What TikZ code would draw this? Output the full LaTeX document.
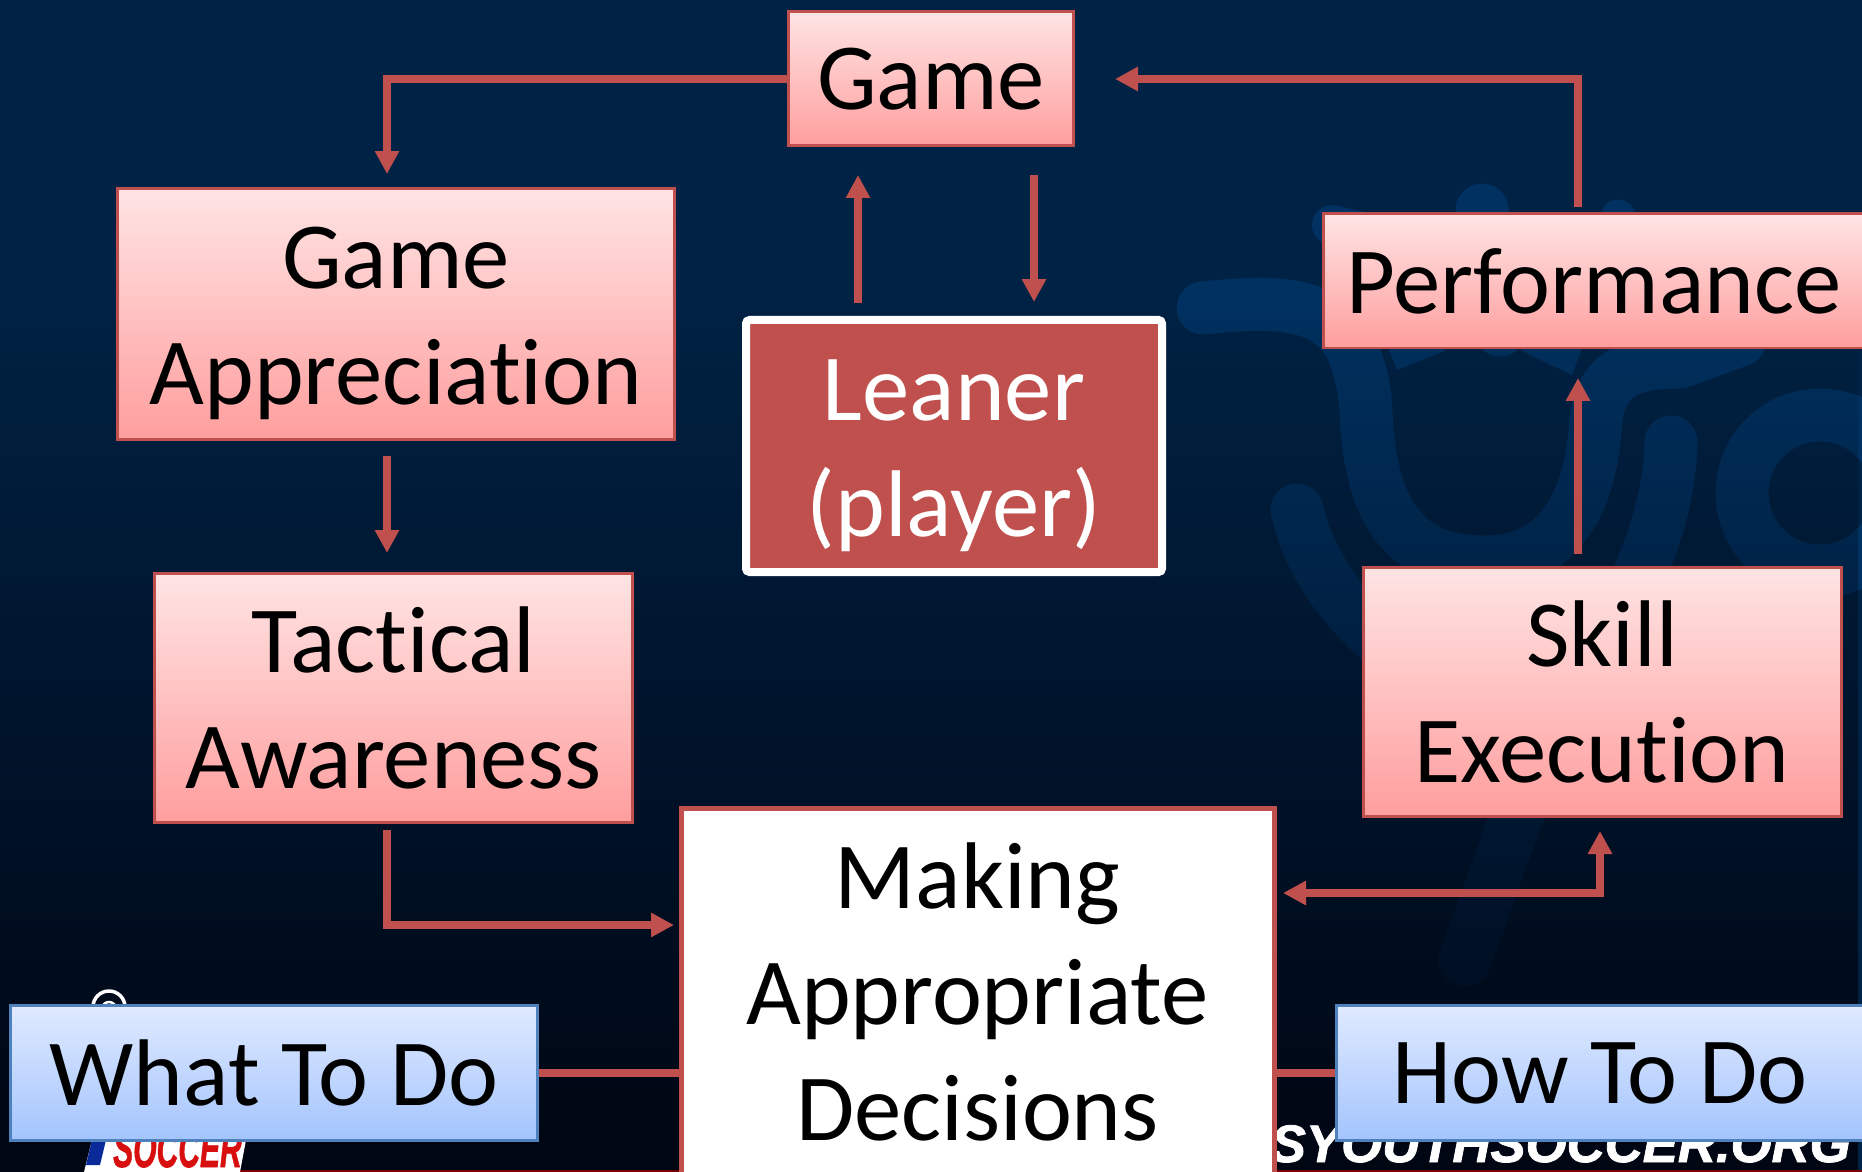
\documentclass[tikz,border=0pt]{standalone}
\usepackage{fontspec}
\setmainfont{Carlito}[Ligatures=NoCommon]
\newfontfamily\logofont{Liberation Sans}[FakeBold=1.5]
\usetikzlibrary{positioning, arrows.meta, fadings}

\definecolor{navy}{HTML}{002244}
\definecolor{nightblue}{HTML}{010612}
\definecolor{logoblue}{HTML}{003160}
\definecolor{linkred}{HTML}{C0504D}
\definecolor{pinktop}{HTML}{FFE4E4}
\definecolor{pinkbottom}{HTML}{FF9E9E}
\definecolor{bluetop}{HTML}{E0EAFF}
\definecolor{bluebottom}{HTML}{A3C4FE}
\definecolor{blueedge}{HTML}{4F81BD}
\definecolor{soccerred}{HTML}{D80F0F}
\definecolor{soccerblue}{HTML}{0A2A9A}
\definecolor{stripred}{HTML}{7A0008}

\tikzfading[name=fadedown, top color=transparent!100, bottom color=transparent!0]

\newcommand{\lowerline}{\rule{0pt}{46pt}}

\tikzset{
  redtip/.tip={Triangle[width=.46cm,length=.46cm]},
  boxtext/.style={font=\fontsize{53.9}{66}\selectfont, align=center, inner sep=0pt, text=black},
  pinkbox/.style={boxtext, draw=linkred, line width=.06cm, top color=pinktop, bottom color=pinkbottom},
  bluebox/.style={boxtext, draw=blueedge, line width=.05cm, top color=bluetop, bottom color=bluebottom},
  learnerbox/.style={boxtext, draw=white, line width=.16cm, fill=linkred, text=white, rounded corners=2pt},
  decisionbox/.style={boxtext, draw=linkred, line width=.1cm, fill=white},
  link/.style={draw=linkred, line width=.16cm, -redtip},
  plainlink/.style={draw=linkred, line width=.16cm},
  logostroke/.style={draw=logoblue, line width=1.06cm, line cap=round}
}

\begin{document}
\begin{tikzpicture}[x=.02cm,y=-.02cm]
\useasboundingbox (0,0) rectangle (1862,1172);
\clip (0,0) rectangle (1862,1172);

% background and faint logo
\fill[navy] (0,0) rectangle (1862,1172);
\draw[logostroke] (1203,308) .. controls (1280,300) and (1340,300) .. (1358,365) .. controls (1368,400) and (1365,410) .. (1367,430)
  .. controls (1375,520) and (1410,562) .. (1485,562) .. controls (1560,562) and (1590,500) .. (1595,430)
  .. controls (1598,380) and (1620,362) .. (1680,362) -- (1740,340);
\draw[logostroke] (1671,442) .. controls (1668,560) and (1600,640) .. (1515,820) -- (1465,960);
\draw[logostroke] (1297,510) .. controls (1310,570) and (1360,640) .. (1440,680);
\draw[logostroke, line width=.8cm] (1332,225) -- (1440,250);
\draw[logostroke] (1482,210) -- (1500,330);
\draw[logostroke, line width=.7cm] (1618,217) -- (1590,300);
\fill[logoblue] (1385,340) -- (1397,370) -- (1447,350) -- cycle;
\fill[logoblue] (1520,350) -- (1572,375) -- (1585,340) -- cycle;
\draw[logoblue, line width=1.06cm] (1820,493) circle (78);
\fill[nightblue, path fading=fadedown] (0,300) rectangle (1862,1172);

% marks at the bottom edge
\draw[stripred, line width=.06cm] (240,1171) -- (1862,1171);
\draw[white, line width=.07cm] (109,1007) circle (16);
\draw[white, line width=.05cm] (109,1009) circle (7);
\fill[white] (92,1140) -- (246,1140) -- (240,1172) -- (84,1172) -- cycle;
\fill[soccerblue] (92,1140) -- (106,1140) -- (100,1165) -- (86,1165) -- cycle;
\node[text=soccerred, font=\fontsize{30}{30}\logofont\bfseries\itshape, inner sep=0pt, anchor=base west, xscale=.57, transform shape] (soccer) at (113,1167) {SOCCER};
\node[text=white, font=\fontsize{30}{30}\logofont\bfseries\itshape, inner sep=0pt, anchor=base east] (website) at (1851,1162) {USYOUTHSOCCER.ORG};

% draw boxes
\foreach \name/\x/\y/\w/\h/\descr in
{game/931/79/285/134/{Game},
appreciation/396/314/557/250/{\lowerline Game\\Appreciation},
awareness/393.5/698/478/249/{Tactical\\Awareness},
execution/1602/692/478/249/{Skill\\Execution},
performance/1594/281/541/134/{Performance}}
\node[pinkbox, minimum width=\w*.02cm, minimum height=\h*.02cm] (\name) at (\x,\y) {\descr};

\foreach \name/\x in {what/274, how/1600}
\node[bluebox, minimum width=527*.02cm, minimum height=135*.02cm] (\name) at (\x,1073)
  {\ifnum\x<1000 What To Do\else How To Do\fi};

\node[learnerbox, minimum width=416*.02cm, minimum height=252*.02cm] (learner) at (954,446) {\lowerline Leaner\\(player)};
\node[decisionbox, minimum width=593*.02cm, minimum height=368*.02cm] (decision) at (977.5,992) {Making\\Appropriate\\Decisions};

% free ends of the connectors
\foreach \name/\x/\y in
{appreciationIn/387/174, gameRight/1115/79, performanceOut/1578/207,
learnerOut/858/303, gameBelow/858/175, gameOut/1034/175, learnerIn/1034/302,
appreciationOut/387/456, awarenessIn/387/553, awarenessOut/387/830, decisionIn/674/925,
executionOut/1578/554, performanceIn/1578/378, decisionOut/1283/893, executionIn/1600/831}
\coordinate (\name) at (\x,\y);

% draw connectors
\draw[link] (game.west) -| (appreciationIn);
\draw[link] (performanceOut) |- (gameRight);
\foreach \from/\to in {learnerOut/gameBelow, gameOut/learnerIn, appreciationOut/awarenessIn, executionOut/performanceIn}
\draw[link] (\from) -- (\to);
\draw[link] (awarenessOut) |- (decisionIn);
\draw[link, redtip-redtip] (executionIn) |- (decisionOut);
\draw[plainlink] (what.east) -- (what.east -| decision.west);
\draw[plainlink] (how.west -| decision.east) -- (how.west);
\end{tikzpicture}
\end{document}
